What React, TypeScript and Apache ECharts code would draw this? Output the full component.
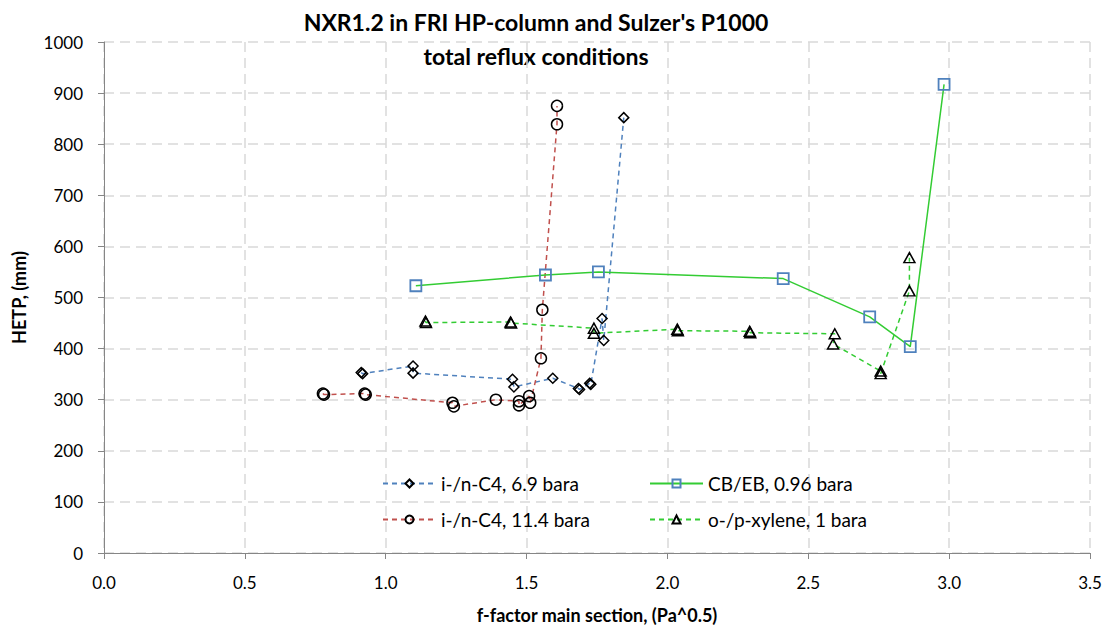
import React, { useEffect, useRef } from "react";
import * as echarts from "echarts";

const titleLines = ["NXR1.2 in FRI HP-column and Sulzer's P1000", "total reflux conditions"];
const xAxisName = "f-factor main section, (Pa^0.5)";
const yAxisName = "HETP, (mm)";
const seriesNames = ["i-/n-C4, 6.9 bara", "i-/n-C4, 11.4 bara", "CB/EB, 0.96 bara", "o-/p-xylene, 1 bara"];

const c4Low: [number, number][] = [
  [0.913, 353], [0.918, 351], [1.097, 366], [1.097, 352], [1.450, 340], [1.455, 325],
  [1.593, 342], [1.684, 322], [1.688, 320], [1.724, 332], [1.728, 330], [1.768, 459],
  [1.774, 416], [1.845, 852],
];
const c4High: [number, number][] = [
  [0.777, 312], [0.781, 310], [0.925, 312], [0.929, 310], [1.237, 294], [1.242, 287],
  [1.391, 300], [1.473, 297], [1.473, 289], [1.509, 307], [1.513, 294], [1.551, 381],
  [1.556, 476], [1.608, 839], [1.608, 875],
];
const cbeb: [number, number][] = [
  [1.107, 523], [1.567, 544], [1.755, 550], [2.411, 537], [2.718, 462], [2.862, 404], [2.982, 917],
];
const xylene: [number, number][] = [
  [1.141, 454], [1.143, 451], [1.443, 452], [1.445, 450], [1.739, 440], [1.739, 430],
  [2.035, 438], [2.037, 435], [2.292, 434], [2.294, 431], [2.594, 429], [2.588, 409],
  [2.757, 356], [2.757, 351], [2.859, 513], [2.859, 578],
];

const FONT = "Lato";

export default function App() {
  const ref = useRef<HTMLDivElement>(null);
  useEffect(() => {
    if (!ref.current) return;
    const chart = echarts.init(ref.current, null, { renderer: "svg" });
    const markerStyle = { color: "rgba(255,255,255,0)", borderColor: "#000", borderWidth: 1.5 };
    const legendBase = {
      orient: "vertical",
      itemWidth: 53,
      itemHeight: 10,
      itemGap: 17,
      padding: 0,
      textStyle: { fontSize: 19, fontFamily: FONT, color: "#000" },
    };
    chart.setOption({
      animation: false,
      backgroundColor: "#fff",
      grid: { left: 104, right: 18, top: 42, bottom: 74, containLabel: false },
      graphic: [
        {
          type: "text", x: 536, y: 22,
          style: { text: titleLines[0], fontSize: 23, fontWeight: "bold", fontFamily: FONT, fill: "#000", textAlign: "center", textVerticalAlign: "middle" },
        },
        {
          type: "text", x: 536, y: 56,
          style: { text: titleLines[1], fontSize: 23, fontWeight: "bold", fontFamily: FONT, fill: "#000", textAlign: "center", textVerticalAlign: "middle" },
        },
      ],
      legend: [
        { ...legendBase, left: 382, top: 474, data: [seriesNames[0], seriesNames[1]] },
        { ...legendBase, left: 649, top: 474, data: [seriesNames[2], seriesNames[3]] },
      ],
      xAxis: {
        type: "value", min: 0, max: 3.5, interval: 0.5,
        name: xAxisName, nameLocation: "middle", nameGap: 53,
        nameTextStyle: { fontSize: 18, fontWeight: "bold", fontFamily: FONT, color: "#000" },
        axisLine: { show: true, lineStyle: { color: "#868686", width: 1 } },
        axisTick: { show: true, length: 6, lineStyle: { color: "#868686" } },
        axisLabel: { fontSize: 17, fontFamily: FONT, color: "#000", margin: 21, formatter: (v: number) => v.toFixed(1) },
        splitLine: { show: true, lineStyle: { color: "#d9d9d9", type: [10, 6], width: 1.5 } },
      },
      yAxis: {
        type: "value", min: 0, max: 1000, interval: 100,
        name: yAxisName, nameLocation: "middle", nameGap: 76, nameRotate: 90,
        nameTextStyle: { fontSize: 18, fontWeight: "bold", fontFamily: FONT, color: "#000" },
        axisLine: { show: true, lineStyle: { color: "#868686", width: 1 } },
        axisTick: { show: true, length: 6, lineStyle: { color: "#868686" } },
        axisLabel: { fontSize: 17, fontFamily: FONT, color: "#000", margin: 21, formatter: (v: number) => String(v) },
        splitLine: { show: true, lineStyle: { color: "#d9d9d9", type: [10, 6], width: 1.5 } },
      },
      series: [
        {
          name: seriesNames[0], type: "line", data: c4Low,
          symbol: "diamond", symbolSize: [10, 10],
          lineStyle: { color: "#4f81bd", width: 1.5, type: [5, 4] },
          itemStyle: markerStyle,
        },
        {
          name: seriesNames[1], type: "line", data: c4High,
          symbol: "circle", symbolSize: 11,
          lineStyle: { color: "#c0504d", width: 1.5, type: [5, 4] },
          itemStyle: markerStyle,
        },
        {
          name: seriesNames[2], type: "line", data: cbeb,
          symbol: "rect", symbolSize: 11,
          lineStyle: { color: "#33cc33", width: 1.5, type: "solid" },
          itemStyle: { color: "rgba(255,255,255,0)", borderColor: "#4f81bd", borderWidth: 1.8 },
        },
        {
          name: seriesNames[3], type: "line", data: xylene,
          symbol: "triangle", symbolSize: [11, 10],
          lineStyle: { color: "#33cc33", width: 1.5, type: [5, 4] },
          itemStyle: markerStyle,
        },
      ],
    });
    return () => chart.dispose();
  }, []);
  return <div ref={ref} style={{ position: "fixed", left: 0, top: 0, width: 1108, height: 629 }} />;
}
